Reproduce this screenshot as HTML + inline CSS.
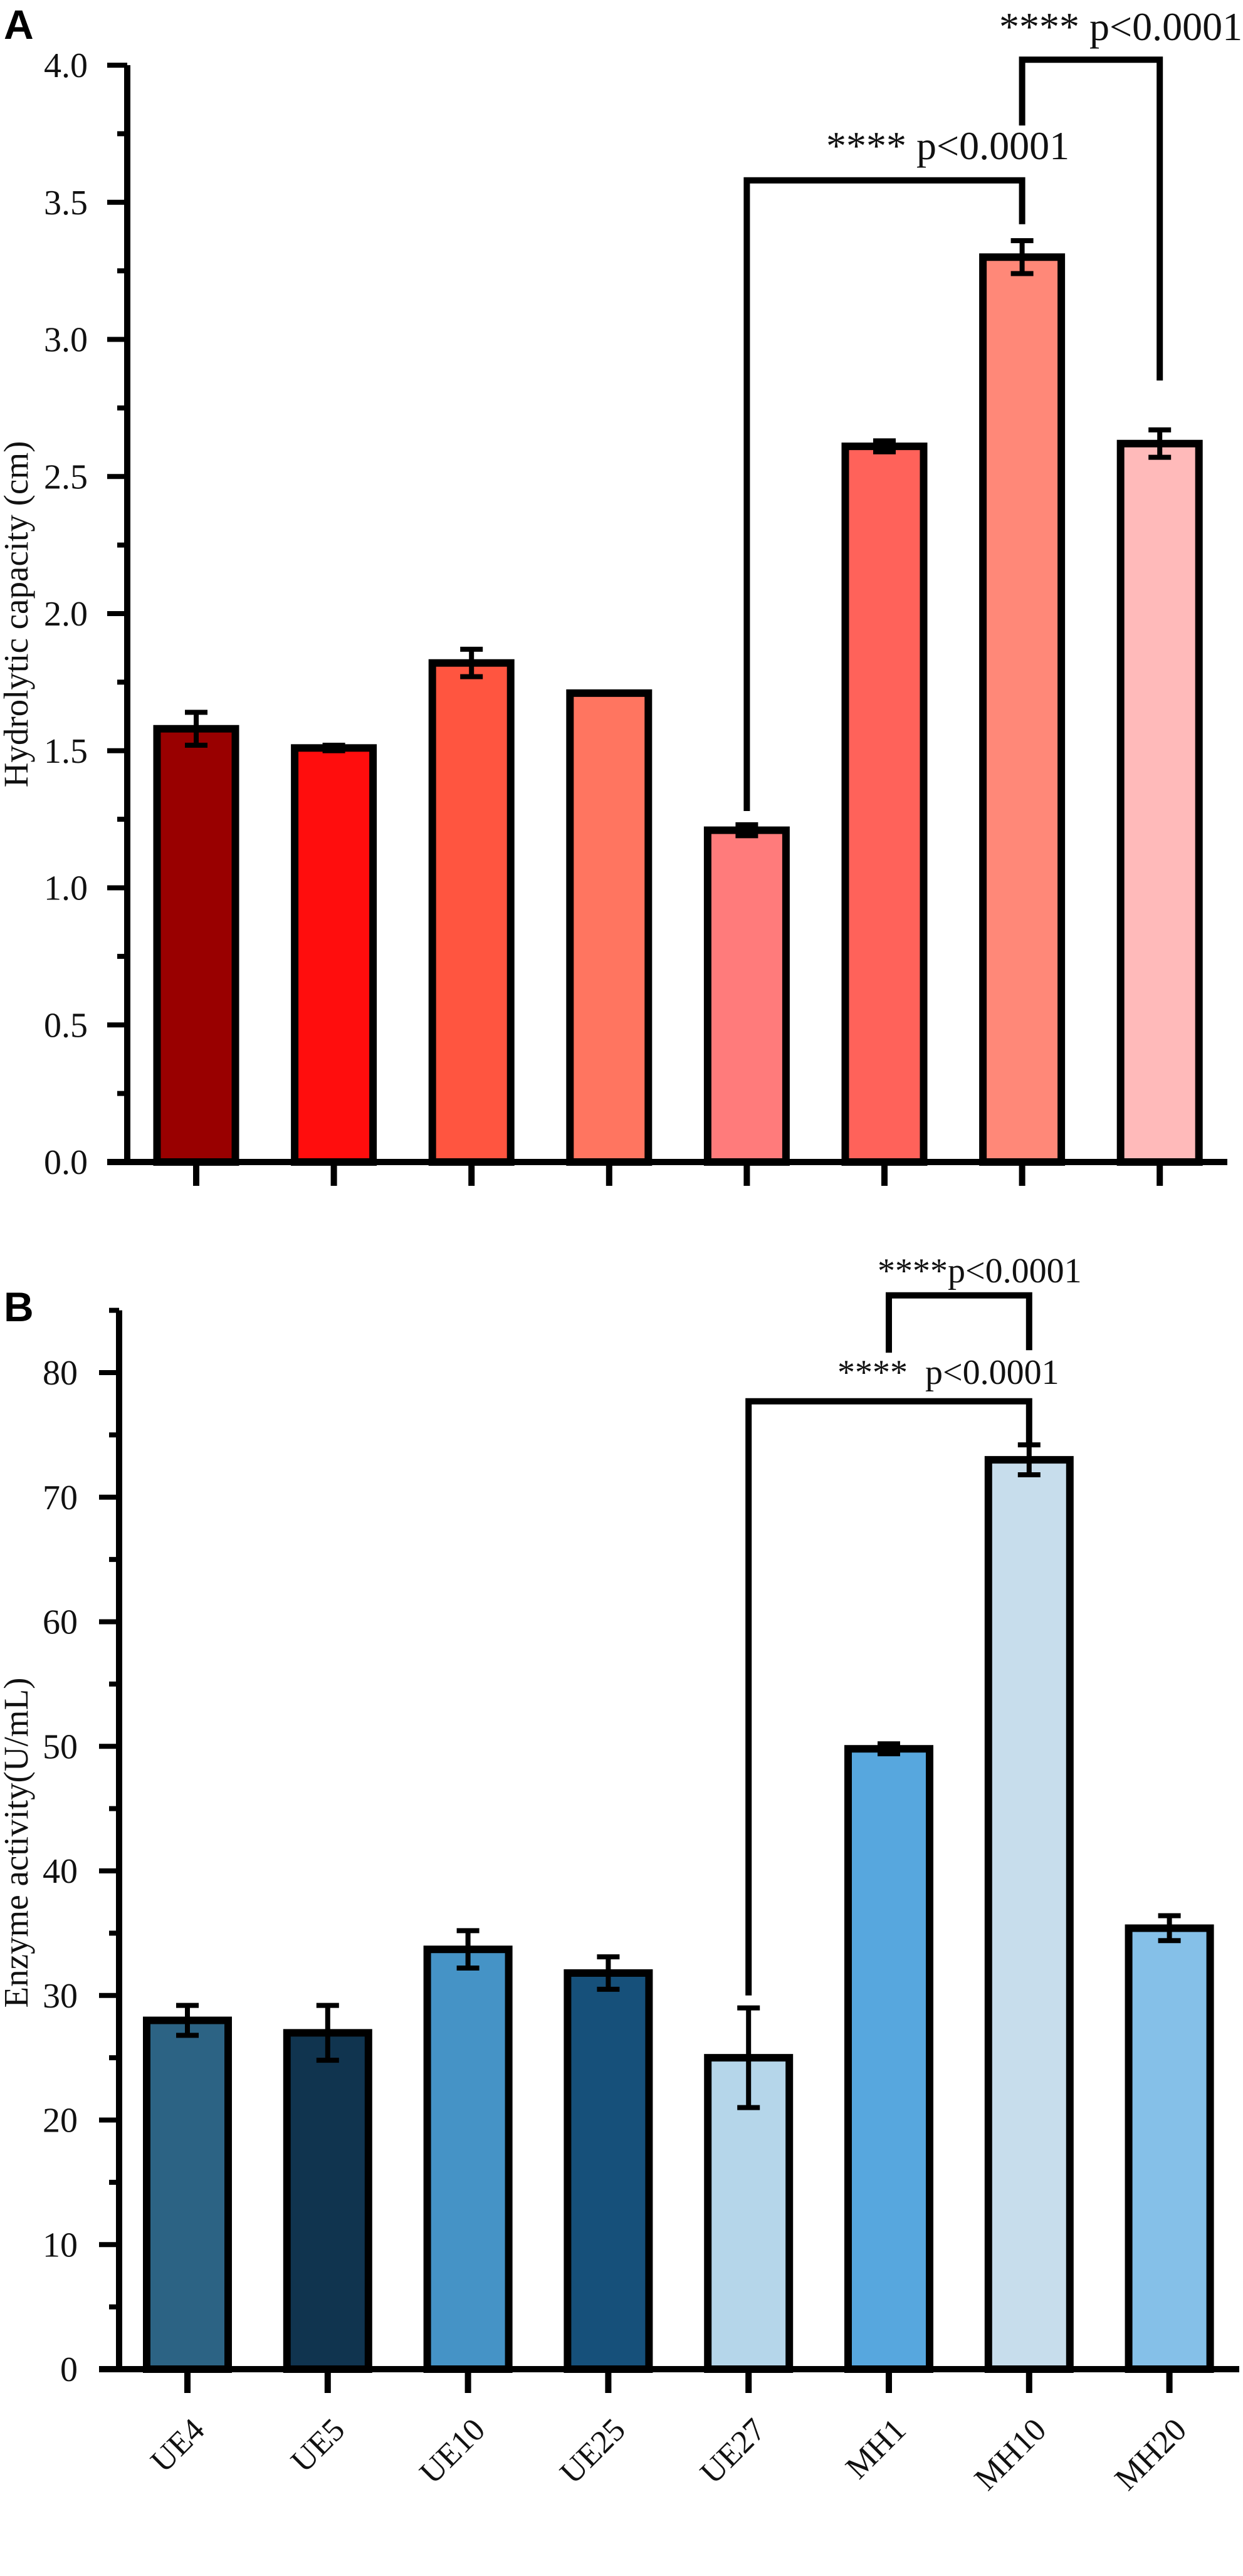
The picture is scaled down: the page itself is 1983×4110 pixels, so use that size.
<!DOCTYPE html>
<html><head><meta charset="utf-8"><style>
html,body{margin:0;padding:0;background:#fff;}
svg{display:block;font-family:"Liberation Serif",serif;}
</style></head><body>
<svg id="chart" width="1983" height="4110" viewBox="0 0 1983 4110">
<text x="6" y="62" font-family="Liberation Sans, sans-serif" font-weight="bold" font-size="66">A</text>
<text x="6" y="2108" font-family="Liberation Sans, sans-serif" font-weight="bold" font-size="66">B</text>
<g id="pa"></g>
<g id="pb"></g>
</svg>
<script>
const categories = ["UE4","UE5","UE10","UE25","UE27","MH1","MH10","MH20"];
const valuesA = [1.58,1.51,1.82,1.71,1.21,2.61,3.30,2.62];
const errorsA = [0.06,0.01,0.05,0.0,0.02,0.02,0.06,0.05];
const colorsA = ["#990000","#ff0d0d","#ff5540","#ff7560","#ff7b7b","#ff625a","#ff8878","#ffbaba"];
const ticksA = ["0.0","0.5","1.0","1.5","2.0","2.5","3.0","3.5","4.0"];
const valuesB = [28.0,27.0,33.7,31.8,25.0,49.8,73.0,35.4];
const errorsB = [1.2,2.2,1.5,1.3,4.0,0.4,1.2,1.0];
const colorsB = ["#2c6384","#10344f","#4593c6","#16507a","#b5d6ea","#57a7de","#c7ddec","#85c0e8"];
const ticksB = ["0","10","20","30","40","50","60","70","80"];
const NS = "http://www.w3.org/2000/svg";
function mk(parent, tag, attrs){const e=document.createElementNS(NS,tag);for(const k in attrs)e.setAttribute(k,attrs[k]);parent.appendChild(e);return e;}

function drawPanel(g, cfg){
  const {x0,x1,yBase,pxPerUnit,yTopVal,centers,barW,vals,errs,cols,ticks,tickStep,minorStep,labelRight,title,titleY,showX} = cfg;
  const Y = v => yBase - v*pxPerUnit;
  vals.forEach((v,i)=>{
    const r = mk(g,'rect',{x:centers[i]-barW/2,y:Y(v),width:barW,height:yBase-Y(v),fill:cols[i],stroke:'#000','stroke-width':12});
    
    
    if(errs[i]>0){
      const e = mk(g,'path',{d:`M${centers[i]},${Y(v+errs[i])}V${Y(v-errs[i])}M${centers[i]-18},${Y(v+errs[i])}H${centers[i]+18}M${centers[i]-18},${Y(v-errs[i])}H${centers[i]+18}`,stroke:'#000','stroke-width':8,fill:'none'});
      
      
    }
  });
  const ax = mk(g,'path',{d:`M${x0},${Y(yTopVal)}V${yBase}M${x0-32},${yBase}H${x1}`,stroke:'#000','stroke-width':10,fill:'none'});
  
  
  for(let v=0; v<=yTopVal+1e-9; v+=minorStep){
    const major = Math.abs(v/tickStep - Math.round(v/tickStep))<1e-6;
    const len = major?32:16;
    const t = mk(g,'line',{x1:x0-len,x2:x0,y1:Y(v),y2:Y(v),stroke:'#000','stroke-width':8});
    
    
  }
  ticks.forEach((lab,i)=>{
    const t = mk(g,'text',{x:labelRight,y:Y(i*tickStep)+19,'text-anchor':'end','font-size':56,fill:'#111'});
    t.textContent = lab;
    
    
  });
  centers.forEach((c,i)=>{
    const t = mk(g,'line',{x1:c,x2:c,y1:yBase,y2:yBase+38,stroke:'#000','stroke-width':10});
    
    
    if(showX){
      const l = mk(g,'text',{x:c+30,y:yBase+100,'text-anchor':'end','font-size':52,fill:'#111',transform:`rotate(-45 ${c+30} ${yBase+100})`});
      l.textContent = categories[i];
      
      
    }
  });
  const tt = mk(g,'text',{x:0,y:0,'text-anchor':'middle','font-size':55,fill:'#111',transform:`translate(44 ${titleY}) rotate(-90)`});
  tt.textContent = title;
  
  
  return Y;
}

const centersA = categories.map((c,i)=>313+i*219.6);
const YA = drawPanel(document.getElementById('pa'),{x0:203,x1:1958,yBase:1854,pxPerUnit:437.5,yTopVal:4.0,centers:centersA,barW:125,vals:valuesA,errs:errorsA,cols:colorsA,ticks:ticksA,tickStep:0.5,minorStep:0.25,labelRight:140,title:"Hydrolytic capacity (cm)",titleY:980,showX:false});
const centersB = categories.map((c,i)=>299+i*223.8);
const YB = drawPanel(document.getElementById('pb'),{x0:190,x1:1977,yBase:3780,pxPerUnit:19.875,yTopVal:85,centers:centersB,barW:130,vals:valuesB,errs:errorsB,cols:colorsB,ticks:ticksB,tickStep:10,minorStep:5,labelRight:124,title:"Enzyme activity(U/mL)",titleY:2940,showX:true});

function bracket(g,xa,xb,yTop,ya,yb,name){
  const p = mk(g,'path',{d:`M${xa},${ya}V${yTop}H${xb}V${yb}`,stroke:'#000','stroke-width':10,fill:'none'});
  
  
}
function txt(g,x,y,s,size,name){
  const t = mk(g,'text',{x:x,y:y,'font-size':size,fill:'#111'});
  t.textContent = s;
  
  
}
const pa = document.getElementById('pa');
bracket(pa,centersA[4],centersA[6],YA(3.58),YA(1.28),YA(3.42),'significance-bracket-ue27-mh10');
bracket(pa,centersA[6],centersA[7],YA(4.02),YA(3.78),YA(2.85),'significance-bracket-mh10-mh20');
txt(pa,1318,254,"**** p<0.0001",64,'significance-label-1');
txt(pa,1594,64,"**** p<0.0001",64,'significance-label-2');
const pb = document.getElementById('pb');
bracket(pb,centersB[4],centersB[6],YB(77.7),YB(30),YB(74.3),'significance-bracket-ue27-mh10');
bracket(pb,centersB[5],centersB[6],YB(86.2),YB(81.6),YB(81.8),'significance-bracket-mh1-mh10');
txt(pb,1336,2208,"****",56,'significance-stars-1');
txt(pb,1476,2208,"p<0.0001",56,'significance-label-1');
txt(pb,1400,2046,"****p<0.0001",56,'significance-label-2');
</script>
</body></html>
